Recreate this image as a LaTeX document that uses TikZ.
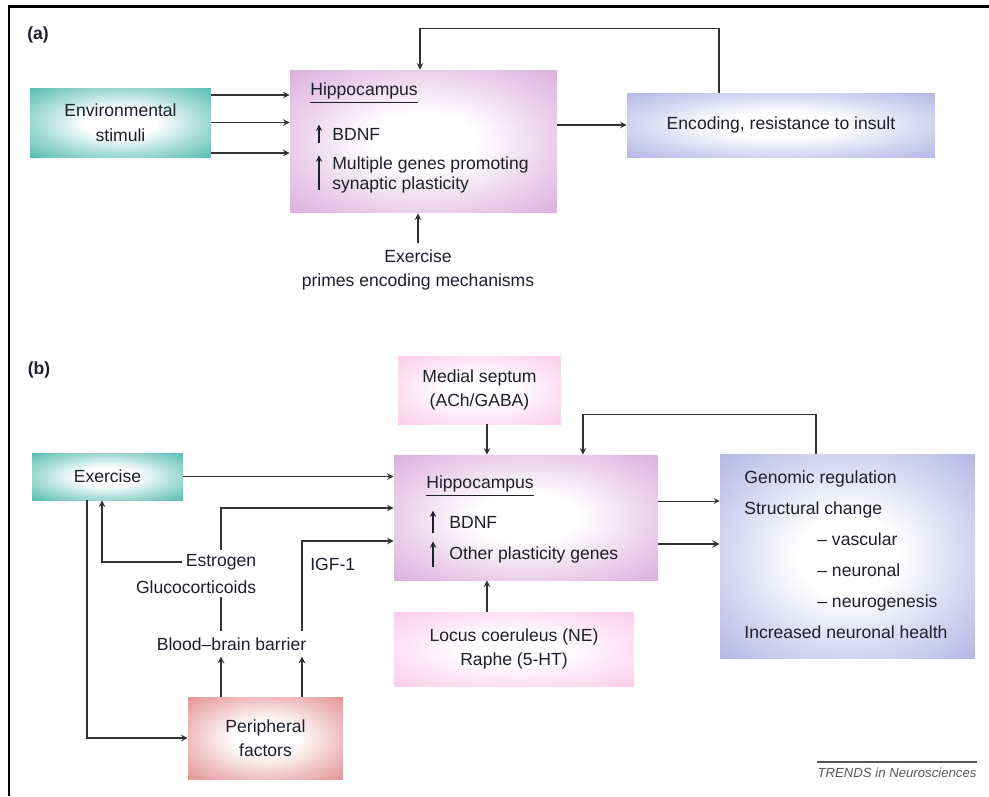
\documentclass[tikz,border=0pt]{standalone}
\usepackage{fontspec}
\setmainfont{Liberation Sans}

\definecolor{tealc}{RGB}{40,170,155}
\definecolor{purpc}{RGB}{210,152,210}
\definecolor{bluec}{RGB}{160,162,222}
\definecolor{pinkc}{RGB}{250,190,228}
\definecolor{salmc}{RGB}{220,118,120}
\definecolor{linec}{RGB}{50,50,50}
\definecolor{textc}{RGB}{30,30,45}

\colorlet{glowc}{white}
\pgfdeclareradialshading[glowc]{glow}{\pgfpoint{0bp}{0bp}}{%
  color(0bp)=(white); color(10bp)=(white); color(24bp)=(glowc!45!white);
  color(38bp)=(glowc!85!white); color(50bp)=(glowc)}

\begin{document}
\begin{tikzpicture}[x=0.02cm, y=-0.02cm,
  font=\fontsize{10}{14}\selectfont, text=textc,
  glow color/.code={\colorlet{glowc}{#1}},
  box/.style={shade, shading=glow, glow color=#1, align=center, inner sep=2pt},
  lbl/.style={anchor=west, inner sep=0pt},
  arr/.style={->, >=stealth, draw=linec, line width=0.7pt},
  uparr/.style={->, >=stealth, draw=textc, line width=0.6pt}
]
  \useasboundingbox (0,0) rectangle (989,796);
  \draw[line width=0.06cm] (9,796) -- (9,6) -- (989,6);

  % --- (a) ---
  \node[font=\bfseries] (la) at (38,35) {(a)};
  \node[box=tealc, minimum width=3.62cm, minimum height=1.38cm] (env) at (120.5,122.5)
        {Environmental\\stimuli};
  \node[box=purpc, minimum width=5.34cm, minimum height=2.86cm] (hipA) at (423.5,141.5) {};
  \node[lbl] (hipAt) at (310,93) {\underline{Hippocampus}};
  \node[lbl] (bdnfA) at (332,134) {BDNF};
  \node[lbl, align=left, font=\fontsize{10}{11.5}\selectfont] (genesA) at (332,175)
        {Multiple genes promoting\\synaptic plasticity};
  \node[box=bluec, minimum width=6.16cm, minimum height=1.28cm] (enc) at (781,125)
        {Encoding, resistance to insult};
  \node[align=center] (exA) at (418,270) {Exercise\\primes encoding mechanisms};

  \draw[uparr] ([shift={(-0.26cm,-0.06cm)}]bdnfA.south west) -- ([shift={(-0.26cm,0.06cm)}]bdnfA.north west);
  \draw[uparr] ([shift={(-0.26cm,0.08cm)}]genesA.south west) -- ([shift={(-0.26cm,0.02cm)}]genesA.north west);

  \draw[arr] ([yshift=0.55cm]env.east) -- ([yshift=0.55cm]env.east -| hipA.west);
  \draw[arr] (env.east) -- (env.east -| hipA.west);
  \draw[arr] ([yshift=-0.61cm]env.east) -- ([yshift=-0.61cm]env.east -| hipA.west);
  \draw[arr] (hipA.east |- enc.west) -- (enc.west);
  \draw[arr] ([xshift=-1.24cm]enc.north) -- ++(0,1.28cm) -| ([xshift=-0.07cm]hipA.north);
  \draw[arr] (exA.north) -- (exA.north |- hipA.south);

  % --- (b) ---
  \node[font=\bfseries] (lb) at (39,370) {(b)};
  \node[box=tealc, minimum width=3.02cm, minimum height=0.94cm] (exer) at (107.5,476.5) {Exercise};
  \node[box=purpc, minimum width=5.28cm, minimum height=2.5cm] (hipB) at (526,517.5) {};
  \node[lbl] (hipBt) at (426,486) {\underline{Hippocampus}};
  \node[lbl] (bdnfB) at (449,522) {BDNF};
  \node[lbl] (genesB) at (449,555) {Other plasticity genes};
  \node[box=pinkc, minimum width=3.26cm, minimum height=1.36cm] (med) at (479.5,390)
        {Medial septum\\(ACh/GABA)};
  \node[box=pinkc, minimum width=4.8cm, minimum height=1.48cm] (locus) at (514,649)
        {Locus coeruleus (NE)\\Raphe (5-HT)};
  \node[box=bluec, minimum width=5.1cm, minimum height=4.08cm] (gen) at (847.5,556) {};
  \node[lbl, align=left, font=\fontsize{10}{17.6}\selectfont] (gent) at (744,555)
        {Genomic regulation\\Structural change\\\hspace*{1.46cm}– vascular\\
         \hspace*{1.46cm}– neuronal\\\hspace*{1.46cm}– neurogenesis\\Increased neuronal health};
  \node[box=salmc, minimum width=3.1cm, minimum height=1.64cm] (peri) at (265.5,738)
        {Peripheral\\factors};
  \node (bbb) at (231.5,644) {Blood–brain barrier};
  \node[anchor=east, inner sep=2pt] (estr) at (260,562) {Estrogen};
  \node[anchor=east, inner sep=2pt] (gluco) at (260,587) {Glucocorticoids};
  \node[lbl] (igf) at (310,564) {IGF-1};
  \coordinate (igfx) at (302,541);

  \draw[uparr] ([shift={(-0.32cm,-0.1cm)}]bdnfB.south west) -- ([shift={(-0.32cm,0.1cm)}]bdnfB.north west);
  \draw[uparr] ([shift={(-0.32cm,-0.06cm)}]genesB.south west) -- ([shift={(-0.32cm,0.1cm)}]genesB.north west);

  \draw[arr] (exer.east) -- (exer.east -| hipB.west);
  \draw[arr] (estr.north) |- ([yshift=0.19cm]hipB.west);
  \draw[arr] (bbb.north -| igfx) -- (igfx) -- (igfx -| hipB.west);
  \draw[arr, -] (bbb.north -| estr.north) -- (gluco.south -| estr.north);
  \draw[arr] (peri.north -| estr.north) -- (bbb.south -| estr.north);
  \draw[arr] (peri.north -| igfx) -- (bbb.south -| igfx);
  \draw[arr] (estr.west) -| ([xshift=-0.11cm]exer.south);
  \draw[arr] ([xshift=-0.41cm]exer.south) |- (peri.west);
  \draw[arr] ([xshift=0.15cm]med.south) -- ([xshift=0.15cm]med.south |- hipB.north);
  \draw[arr] ([xshift=0.15cm]med.south |- locus.north) -- ([xshift=0.15cm]med.south |- hipB.south);
  \draw[arr] ([xshift=-0.63cm]gen.north) -- ++(0,0.78cm) -| ([xshift=1.14cm]hipB.north);
  \draw[arr, line width=0.5pt] ([yshift=0.33cm]hipB.east) -- ([yshift=0.33cm]hipB.east -| gen.west);
  \draw[arr, line width=0.9pt] ([yshift=-0.53cm]hipB.east) -- ([yshift=-0.53cm]hipB.east -| gen.west);

  % --- credit ---
  \node[font=\itshape\fontsize{7.5}{9}\selectfont, text=gray!70!black, inner xsep=0pt] (trends) at (897,773)
        {TRENDS in Neurosciences};
  \draw[gray!70!black, line width=0.04cm] (trends.north west) -- (trends.north east);
\end{tikzpicture}
\end{document}
